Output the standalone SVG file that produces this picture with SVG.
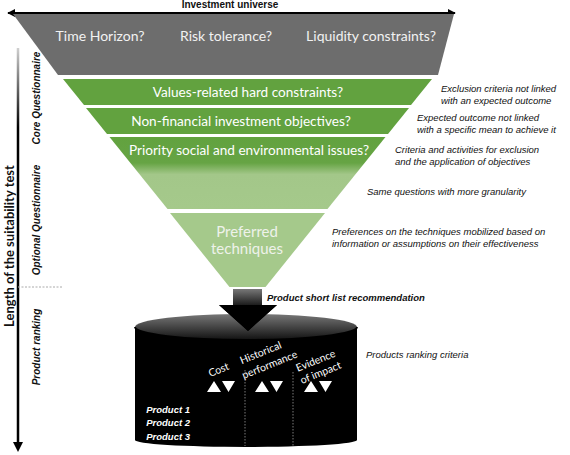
<svg xmlns="http://www.w3.org/2000/svg" width="570" height="455" viewBox="0 0 570 455">
<style>
.q{font-family:Lato,"Liberation Sans",sans-serif;font-size:14px;fill:#f2f2f2;text-anchor:middle}
.g{font-family:Lato,"Liberation Sans",sans-serif;font-size:13.6px;fill:#ffffff;text-anchor:middle}
.pt{font-family:Lato,"Liberation Sans",sans-serif;font-size:15px;fill:#eef2ea;text-anchor:middle}
.note{font-family:"Liberation Sans",sans-serif;font-style:italic;font-size:9.5px;fill:#111}
.side{font-family:"Liberation Sans",sans-serif;font-style:italic;font-weight:bold;font-size:10px;fill:#111;text-anchor:middle}
.crit{font-family:Lato,"Liberation Sans",sans-serif;font-size:10.5px;fill:#fff;text-anchor:middle}
.prod{font-family:"Liberation Sans",sans-serif;font-style:italic;font-weight:bold;font-size:9.5px;fill:#fff;text-anchor:end}
.tri{fill:#fff}
</style>
<defs>
<linearGradient id="bar3" gradientUnits="userSpaceOnUse" x1="0" y1="137" x2="0" y2="209">
<stop offset="0" stop-color="#62a23f"/>
<stop offset="0.36" stop-color="#66a444"/>
<stop offset="0.52" stop-color="#a3c789"/>
<stop offset="1" stop-color="#a5c98b"/>
</linearGradient>
<linearGradient id="axis" gradientUnits="userSpaceOnUse" x1="0" y1="48" x2="0" y2="446">
<stop offset="0" stop-color="#d0d0d0"/>
<stop offset="0.2" stop-color="#000"/>
<stop offset="1" stop-color="#000"/>
</linearGradient>
<linearGradient id="shaft" x1="0" y1="0" x2="0" y2="1">
<stop offset="0" stop-color="#777"/>
<stop offset="0.5" stop-color="#000"/>
<stop offset="1" stop-color="#000"/>
</linearGradient>
<linearGradient id="lid" x1="0" y1="0" x2="0" y2="1">
<stop offset="0" stop-color="#777"/>
<stop offset="0.6" stop-color="#3a3a3a"/>
<stop offset="1" stop-color="#111"/>
</linearGradient>
<marker id="ah" viewBox="0 0 10 10" refX="9" refY="5" markerWidth="4" markerHeight="4" orient="auto-start-reverse">
<path d="M0,0 L10,5 L0,10 z" fill="#000"/>
</marker>
</defs>

<g id="axis-top">
<line x1="8" y1="13" x2="455" y2="13" stroke="#000" stroke-width="2" marker-start="url(#ah)" marker-end="url(#ah)"/>
<text x="230" y="8" style="font-family:'Liberation Sans',sans-serif;font-weight:bold;font-size:10px;fill:#111;text-anchor:middle">Investment universe</text>
</g>

<g id="axis-left">
<line x1="18" y1="48" x2="18" y2="444" stroke="url(#axis)" stroke-width="2.5"/>
<path d="M13,442 L23,442 L18,452 z" fill="#000"/>
<text transform="translate(14,246) rotate(-90)" style="font-family:Lato,'Liberation Sans',sans-serif;font-weight:bold;font-size:13px;fill:#111;text-anchor:middle">Length of the suitability test</text>
<text class="side" transform="translate(40,98) rotate(-90)">Core Questionnaire</text>
<text class="side" transform="translate(40,220) rotate(-90)">Optional Questionnaire</text>
<text class="side" transform="translate(40,347) rotate(-90)">Product ranking</text>
<line x1="18" y1="287" x2="62" y2="287" stroke="#aaa" stroke-width="1" stroke-dasharray="2,1.5"/>
</g>

<g id="gray-band">
<polygon points="13,14 454,14 438,75 58,75" fill="#6d6d6d"/>
<text class="q" x="100" y="41">Time Horizon?</text>
<text class="q" x="226" y="41">Risk tolerance?</text>
<text class="q" x="371" y="41">Liquidity constraints?</text>
</g>

<g id="bar-values">
<polygon points="63,79 432,79 411,105 84,105" fill="#62a23f"/>
<text class="g" x="248" y="97">Values-related hard constraints?</text>
</g>

<g id="bar-nonfinancial">
<polygon points="86,108 409,108 388,134 107,134" fill="#62a23f"/>
<text class="g" x="241" y="126">Non-financial investment objectives?</text>
</g>

<g id="bar-priority">
<polygon points="109.5,137 385.5,137 327.5,209 167.5,209" fill="url(#bar3)"/>
<text class="g" x="249" y="155">Priority social and environmental issues?</text>
</g>

<g id="bar-preferred">
<polygon points="170,213 325,213 265.5,287 229.5,287" fill="#a5c98b"/>
<text class="pt" x="247" y="237">Preferred</text>
<text class="pt" x="247" y="254">techniques</text>
</g>

<g id="notes">
<text class="note" x="441" y="92">Exclusion criteria not linked</text>
<text class="note" x="441" y="104">with an expected outcome</text>
<text class="note" x="417" y="121">Expected outcome not linked</text>
<text class="note" x="417" y="133">with a specific mean to achieve it</text>
<text class="note" x="395" y="153">Criteria and activities for exclusion</text>
<text class="note" x="395" y="165">and the application of objectives</text>
<text class="note" x="367" y="195">Same questions with more granularity</text>
<text class="note" x="332" y="235">Preferences on the techniques mobilized based on</text>
<text class="note" x="332" y="247">information or assumptions on their effectiveness</text>
<text class="note" x="366" y="358">Products ranking criteria</text>
</g>

<g id="cylinder">
<path d="M135,327 L135,440 A111,7 0 0 0 357,440 L357,327 z" fill="#000"/>
<ellipse cx="246" cy="327" rx="111" ry="13" fill="url(#lid)"/>
<path d="M135,327 A111,13 0 0 0 357,327" fill="none" stroke="#000" stroke-width="2"/>
<text class="crit" transform="translate(220,373) rotate(-22)">Cost</text>
<text class="crit" transform="translate(262,356) rotate(-22)">Historical</text>
<text class="crit" transform="translate(271,368) rotate(-22)">performance</text>
<text class="crit" transform="translate(317,364) rotate(-22)">Evidence</text>
<text class="crit" transform="translate(322,376) rotate(-22)">of impact</text>
<path class="tri" d="M207,392 L214,381 L221,392 z M222,381 L235,381 L228.5,392 z"/>
<path class="tri" d="M255,392 L262,381 L269,392 z M270,381 L283,381 L276.5,392 z"/>
<path class="tri" d="M304,392 L311,381 L318,392 z M319,381 L332,381 L325.5,392 z"/>
<line x1="245" y1="370" x2="245" y2="446" stroke="#999" stroke-width="0.8" stroke-dasharray="1.5,1.5"/>
<line x1="293" y1="372" x2="293" y2="446" stroke="#999" stroke-width="0.8" stroke-dasharray="1.5,1.5"/>
<text class="prod" x="190" y="413">Product 1</text>
<text class="prod" x="190" y="426">Product 2</text>
<text class="prod" x="190" y="440">Product 3</text>
</g>

<g id="connectors">
<path d="M233,289 L262,289 L262,305 L277,305 L248,331 L219,305 L233,305 z" fill="url(#shaft)"/>
<path d="M219,305 L277,305 L248,331 z" fill="#000"/>
<text x="267" y="301" style="font-family:'Liberation Sans',sans-serif;font-style:italic;font-weight:bold;font-size:9.5px;fill:#111">Product short list recommendation</text>
</g>
</svg>
